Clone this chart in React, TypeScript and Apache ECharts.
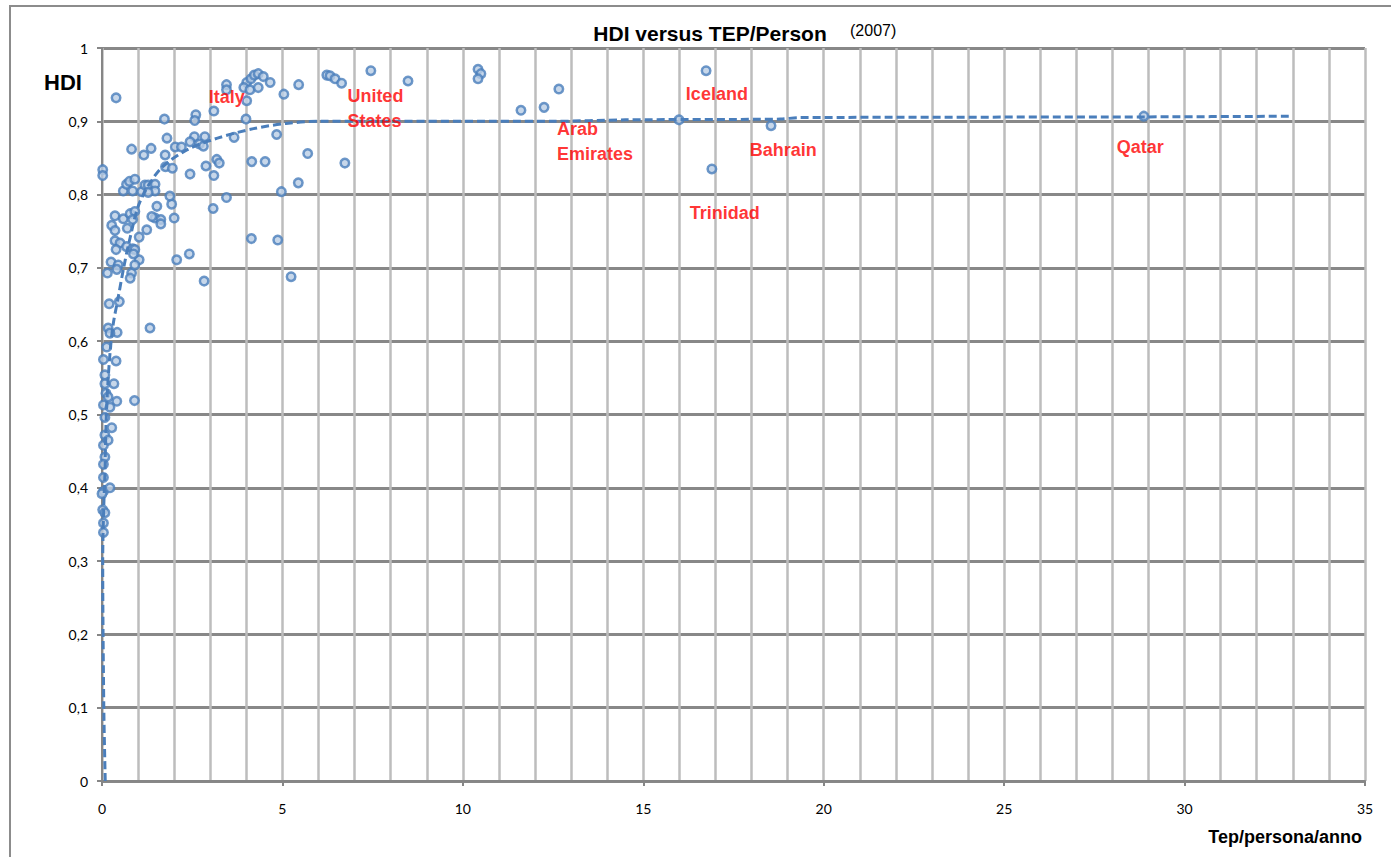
import React, { useEffect, useRef } from "react";
import * as echarts from "echarts";

// [tep per person per year, HDI]
const pointsHighUse: number[][] = [
  [6.23, 0.963], [6.32, 0.962], [6.46, 0.958], [6.64, 0.952], [7.45, 0.969], [8.48, 0.955],
  [10.42, 0.971], [10.5, 0.965], [10.42, 0.958], [11.61, 0.915], [12.25, 0.919], [12.66, 0.944],
  [15.99, 0.902], [16.74, 0.969], [16.9, 0.835], [18.54, 0.894], [28.87, 0.907],
];

const pointsMidUse: number[][] = [
  [3.45, 0.95], [3.45, 0.943], [4.01, 0.953], [4.13, 0.958], [4.22, 0.963], [4.33, 0.965],
  [4.47, 0.961], [4.66, 0.953], [3.93, 0.946], [4.1, 0.943], [4.33, 0.946], [4.01, 0.928],
  [5.04, 0.937], [5.45, 0.95], [3.1, 0.914], [2.6, 0.909], [2.57, 0.901], [1.73, 0.903],
  [3.99, 0.903], [4.84, 0.882], [3.66, 0.878], [1.8, 0.877], [2.56, 0.879], [2.85, 0.879],
  [2.03, 0.865], [2.2, 0.865], [2.44, 0.872], [2.7, 0.869], [2.81, 0.866], [1.36, 0.863],
  [1.16, 0.854], [1.75, 0.854], [1.76, 0.838], [1.95, 0.836], [2.44, 0.828], [2.88, 0.839],
  [3.18, 0.848], [3.25, 0.843], [3.1, 0.826], [4.15, 0.845], [4.52, 0.845], [5.7, 0.856],
  [6.73, 0.843], [5.44, 0.816], [4.97, 0.804], [4.14, 0.74], [4.87, 0.738], [5.24, 0.688],
  [0.82, 0.862], [0.39, 0.932], [0.02, 0.834], [0.02, 0.826],
  [2.83, 0.682], [2.42, 0.719], [2.07, 0.711], [2.0, 0.768], [1.93, 0.787], [1.88, 0.798],
  [1.52, 0.784], [1.47, 0.768], [1.63, 0.766], [1.38, 0.77], [1.63, 0.76], [1.24, 0.752],
  [1.03, 0.742], [1.03, 0.711], [3.08, 0.781], [3.45, 0.796],
];

const pointsLowUse: number[][] = [
  [0.59, 0.805], [0.68, 0.814], [0.76, 0.818], [0.85, 0.805], [0.91, 0.821], [1.1, 0.804],
  [1.19, 0.813], [1.28, 0.813], [1.47, 0.814], [1.47, 0.805], [1.28, 0.803], [0.36, 0.771],
  [0.59, 0.767], [0.27, 0.758], [0.36, 0.751], [0.7, 0.754], [0.78, 0.774], [0.91, 0.777],
  [0.85, 0.766], [0.36, 0.737], [0.5, 0.734], [0.39, 0.725], [0.68, 0.729], [0.85, 0.726],
  [0.91, 0.725], [0.87, 0.719], [0.25, 0.708], [0.45, 0.704], [0.41, 0.698], [0.15, 0.693],
  [0.82, 0.693], [0.78, 0.686], [0.91, 0.704],
  [0.2, 0.651], [0.48, 0.654], [0.17, 0.618], [0.42, 0.612], [0.22, 0.611], [1.33, 0.618],
  [0.13, 0.592], [0.04, 0.575], [0.39, 0.573], [0.08, 0.554], [0.08, 0.542], [0.33, 0.542],
  [0.11, 0.529], [0.17, 0.524], [0.41, 0.518], [0.9, 0.519], [0.04, 0.513], [0.22, 0.51],
  [0.08, 0.496], [0.27, 0.482], [0.08, 0.472], [0.04, 0.458], [0.17, 0.465], [0.08, 0.442],
  [0.04, 0.432], [0.04, 0.414], [0.04, 0.395], [0.22, 0.4], [0.0, 0.392], [0.02, 0.37],
  [0.08, 0.366], [0.04, 0.352], [0.04, 0.339],
];

// fitted trend curve
const trendTep = [0.09, 0.05, 0.02, 0.04, 0.08, 0.12, 0.2, 0.3, 0.45, 0.6, 0.75, 1.05, 1.6, 2.35, 3.2, 4.2, 5.1, 6, 12.5, 14.5, 18.8, 19.3, 29, 33];
const trendHdi = [0, 0.1, 0.3, 0.36, 0.42, 0.5, 0.57, 0.62, 0.66, 0.7, 0.735, 0.79, 0.834, 0.861, 0.877, 0.89, 0.897, 0.9, 0.9, 0.902, 0.903, 0.905, 0.906, 0.907];

const countryNames = ["Italy", "United\nStates", "Arab\nEmirates", "Iceland", "Bahrain", "Trinidad", "Qatar"];
const countryTep = [2.96, 6.8, 12.61, 16.18, 17.95, 16.29, 28.12];
const countryHdi = [0.933, 0.918, 0.872, 0.937, 0.861, 0.775, 0.865];

const yTicks = [0, 0.1, 0.2, 0.3, 0.4, 0.5, 0.6, 0.7, 0.8, 0.9, 1];

export default function App() {
  const ref = useRef<HTMLDivElement>(null);
  useEffect(() => {
    if (!ref.current) return;
    const chart = echarts.init(ref.current, null, { renderer: "svg" });
    const markerStyle = { color: "#b9cde5", borderColor: "#4a7ebb", borderWidth: 2.5 };
    const scatterBase = {
      type: "scatter",
      symbol: "circle",
      symbolSize: 8.5,
      itemStyle: markerStyle,
      z: 3,
    };
    chart.setOption({
      animation: false,
      backgroundColor: "#ffffff",
      grid: { left: 102, right: 26, top: 48, bottom: 76, containLabel: false },
      graphic: [
        {
          type: "rect",
          shape: { x: 10, y: 6, width: 1400, height: 900 },
          style: { fill: "none", stroke: "#8c8c8c", lineWidth: 2 },
          z: -10,
        },
        {
          type: "text",
          x: 710,
          y: 33,
          style: {
            text: "HDI versus TEP/Person",
            font: "bold 21px 'Liberation Sans', Arial, sans-serif",
            fill: "#000",
            textAlign: "center",
            textVerticalAlign: "middle",
          },
        },
        {
          type: "text",
          x: 850,
          y: 30,
          style: {
            text: "(2007)",
            font: "16px 'Liberation Sans', Arial, sans-serif",
            fill: "#000",
            textAlign: "left",
            textVerticalAlign: "middle",
          },
        },
        {
          type: "text",
          x: 44,
          y: 82,
          style: {
            text: "HDI",
            font: "bold 22px 'Liberation Sans', Arial, sans-serif",
            fill: "#000",
            textAlign: "left",
            textVerticalAlign: "middle",
          },
        },
        {
          type: "text",
          x: 1362,
          y: 837,
          style: {
            text: "Tep/persona/anno",
            font: "bold 18px 'Liberation Sans', Arial, sans-serif",
            fill: "#000",
            textAlign: "right",
            textVerticalAlign: "middle",
          },
        },
      ],
      xAxis: {
        type: "value",
        min: 0,
        max: 35,
        interval: 5,
        axisLine: { show: true, lineStyle: { color: "#868686", width: 2 } },
        axisTick: { show: true, length: 5, lineStyle: { color: "#868686", width: 2 } },
        axisLabel: { margin: 20, fontFamily: "Lato, sans-serif", fontSize: 14, color: "#000" },
        splitLine: { show: true, lineStyle: { color: "#bdbdbd", width: 2.5 } },
        minorTick: { show: false, splitNumber: 5 },
        minorSplitLine: { show: true, lineStyle: { color: "#bdbdbd", width: 2.5 } },
      },
      yAxis: {
        type: "value",
        min: 0,
        max: 1,
        interval: 0.1,
        axisLine: { show: true, lineStyle: { color: "#868686", width: 2 } },
        axisTick: { show: true, length: 5, lineStyle: { color: "#868686", width: 2 } },
        axisLabel: {
          margin: 14,
          fontFamily: "Lato, sans-serif",
          fontSize: 14,
          color: "#000",
          formatter: (v: number) => {
            const t = yTicks.reduce((a, b) => (Math.abs(b - v) < Math.abs(a - v) ? b : a));
            return String(Number(t.toFixed(1))).replace(".", ",");
          },
        },
        splitLine: { show: true, lineStyle: { color: "#888888", width: 3 } },
      },
      series: [
        { ...scatterBase, name: "high", data: pointsHighUse },
        { ...scatterBase, name: "mid", data: pointsMidUse },
        { ...scatterBase, name: "low", data: pointsLowUse },
        {
          type: "line",
          name: "trend",
          data: trendTep.map((t, i) => [t, trendHdi[i]]),
          showSymbol: false,
          symbol: "none",
          smooth: 0.3,
          lineStyle: { color: "#4a7ebb", width: 3, type: [8, 4] },
          z: 4,
        },
        {
          type: "scatter",
          name: "labels",
          symbolSize: 0,
          data: countryNames.map((n, i) => ({ name: n, value: [countryTep[i], countryHdi[i]] })),
          label: {
            show: true,
            position: "right",
            distance: 0,
            formatter: (p: any) => p.name,
            color: "#ff0000",
            fontFamily: "'Liberation Sans', Arial, sans-serif",
            fontWeight: "bold",
            fontSize: 18,
            lineHeight: 25,
          },
          z: 5,
        },
      ],
    });
    return () => chart.dispose();
  }, []);
  return (
    <div
      ref={ref}
      style={{ position: "fixed", left: 0, top: 0, width: 1391, height: 857, background: "#fff" }}
    />
  );
}
